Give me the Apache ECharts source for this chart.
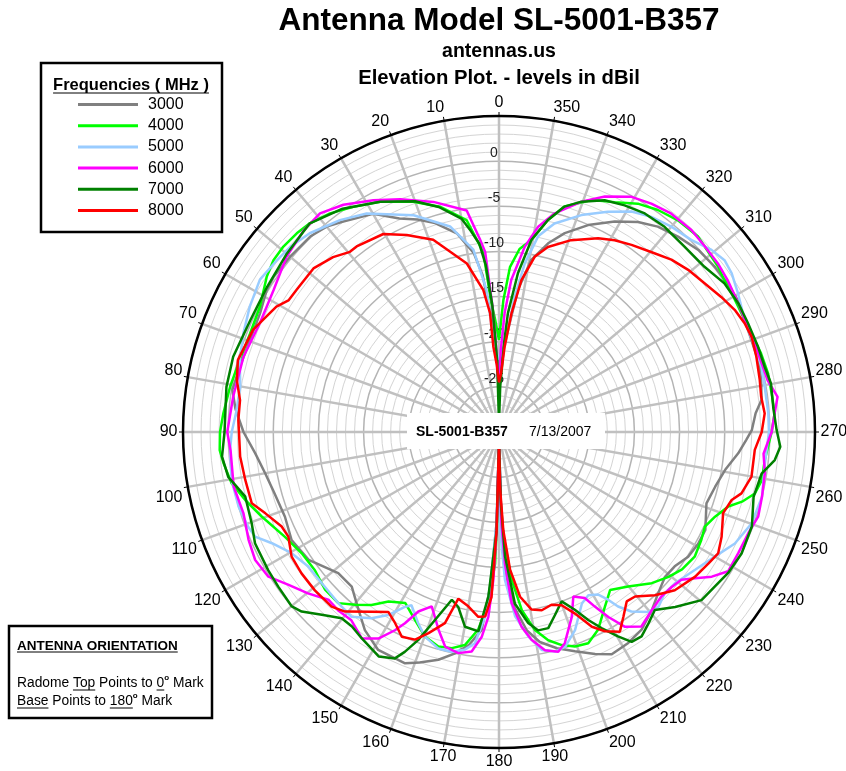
<!DOCTYPE html>
<html><head><meta charset="utf-8">
<script src="https://cdn.jsdelivr.net/npm/echarts/dist/echarts.min.js"></script>
<style>html,body{margin:0;padding:0;background:#fff}#c{width:846px;height:771px}</style>
</head><body><div id="c"></div>
<script>
// ---- DATA ----
const freqNames = ['3000', '4000', '5000', '6000', '7000', '8000'];
const radiusLabels = [-25, -20, -15, -10, -5, 0];
// [angle (deg, counter-clockwise from top), level (dBil)]
const d3000 = [[0,-23],[2,-21],[4,-17],[6,-12.5],[8,-10],[12,-7.5],[17,-5.8],[21,-4.8],[25,-3.9],[30,-2.1],[36.5,-1.0],[40,-0.3],[44,0.1],[50,0.2],[55.5,0.3],[58.6,0.15],[63.6,-0.45],[69.7,-0.6],[75.8,-0.4],[81,-0.1],[85,-0.7],[90,-1.7],[95,-2.9],[100,-3.7],[105,-4.2],[111.6,-4.5],[117.5,-4.1],[123.9,-4.6],[131.3,-6.3],[136.4,-6.35],[141.7,-4.9],[145.9,-3.5],[151,-2.4],[157.9,-2.35],[161,-3.0],[165.1,-3.9],[168.8,-5.0],[172,-6.2],[175,-8.0],[176.8,-13],[178.5,-20],[180,-29],[181.5,-20],[183,-14],[185,-10.5],[188,-7.8],[191,-6.3],[195,-5.2],[199.1,-4.3],[203.4,-3.2],[206.9,-2.4],[211.5,-2.6],[215.8,-3.0],[220.6,-4.0],[224.6,-4.9],[228.9,-5.6],[232.6,-5.5],[236.6,-4.9],[240.8,-4.7],[244.6,-4.7],[251,-5.7],[255.8,-5.3],[260.5,-4.6],[264.9,-3.4],[268.2,-2.6],[270.4,-2.0],[274.2,-1.5],[277,-0.7],[281.2,-0.4],[284.5,-0.2],[290,-0.25],[294.5,-0.1],[298.9,0.2],[303,0.2],[307.5,0.1],[312.4,-0.1],[317.5,-0.65],[322.3,-1.25],[326.5,-2.1],[331.2,-3.4],[336.7,-5.05],[341.7,-6.8],[345.4,-8.4],[349.4,-10.6],[352.4,-14.1],[355,-18.7],[358,-21.5],[360,-23]];
const d4000 = [[0,-19.8],[2,-17.5],[3.5,-15.5],[5,-10],[8.7,-6.25],[14.7,-4.2],[20.4,-2.8],[27.3,-1.3],[32.9,-0.3],[37.7,0.6],[42.2,1.2],[45.5,1.4],[49.3,1.5],[52.7,1.4],[56.2,0.95],[62.3,-0.1],[68.4,-0.35],[74.5,-0.2],[80.4,0.2],[86.1,0.6],[90,0.9],[93.7,1.0],[96.5,0.7],[100.9,0.15],[105,-0.9],[109.6,-2.1],[116.1,-3.6],[121.6,-4.35],[126.9,-4.5],[132.2,-4.0],[136.8,-4.0],[140.2,-5.1],[143.6,-6.2],[146.9,-7.6],[151.3,-8.4],[155.9,-7.2],[160.1,-5.9],[164.2,-5.3],[167.7,-5.5],[170.9,-6.1],[174,-8.0],[176.4,-11],[178.3,-15.4],[179.4,-22.8],[180,-29],[180.7,-22],[182,-19],[184.9,-13.55],[187.3,-10.1],[190.3,-7.7],[193.3,-6.3],[196.4,-5.4],[199.5,-4.8],[202.9,-4.6],[206.6,-5.5],[211.3,-7.4],[215.1,-8.6],[219.9,-7.7],[225.3,-6.2],[229.5,-5.3],[233.1,-4.65],[237.5,-4.3],[241.9,-4.6],[245.3,-4.9],[248.6,-4.3],[252,-3.3],[254,-2.0],[256.5,-0.85],[259.6,-0.4],[264,-0.4],[270,0.2],[273.9,0.6],[278.1,0.5],[282.3,0.5],[286.7,0.3],[291.4,0.0],[296.1,-0.1],[300.8,0.0],[304,0.1],[307,0.4],[314.5,0.9],[319.8,0.7],[324.4,0.24],[328.7,-0.4],[333.3,-1.5],[338.3,-2.35],[343.8,-4.0],[347,-5.9],[350.4,-8.4],[353.6,-9.6],[356.2,-11.7],[358.1,-15.4],[360,-19.8]];
const d5000 = [[0,-22],[2,-21],[3.5,-19.5],[5,-14.2],[8,-9.6],[13.4,-6.6],[21.5,-4.2],[31.2,-1.7],[36.9,-0.65],[43.6,0.4],[48.4,0.9],[52.3,1.1],[57.5,1.4],[63.3,0.9],[68.9,0.35],[74.5,-0.2],[80,-0.9],[85.8,-0.8],[90,-0.4],[93.8,-0.15],[100.2,0.1],[106,0.0],[110.7,-0.3],[113.2,-0.6],[116.1,-2.0],[120.3,-3.4],[125.2,-4.15],[130.5,-4.2],[136.8,-4.0],[141.4,-3.8],[145.6,-5.0],[148.8,-6.3],[151.7,-8.0],[153.2,-8.5],[157.1,-7.0],[160.1,-5.9],[164.3,-5.1],[167.8,-5.1],[171.1,-5.6],[173.5,-6.45],[175.7,-9.5],[176.7,-12.8],[178.5,-20],[180,-29],[180.6,-19.2],[182.3,-13.6],[185,-9.5],[188.2,-7.1],[191.1,-5.4],[194.3,-4.9],[197.1,-5.1],[201,-6.5],[205.8,-8.9],[208.7,-9.4],[211.4,-8.9],[213.1,-7.8],[214.3,-6.6],[216.4,-5.3],[219.7,-4.1],[222.4,-3.8],[225.8,-4.4],[229.3,-4.3],[234.9,-3.45],[240,-2.4],[244.7,-1.1],[250.1,-0.25],[256.2,0.0],[263.3,-0.35],[270,-0.1],[274,-0.1],[279.7,-0.15],[284,-0.05],[288.5,-0.15],[294.5,-0.1],[300.1,0.6],[304.3,1.2],[307.3,1.4],[310.6,1.0],[315,0.1],[320,-0.3],[324.7,-0.8],[329,-1.5],[333.7,-2.8],[339.2,-4.3],[345.1,-6.1],[348.7,-7.9],[351.3,-11.1],[353.4,-14.9],[356.2,-20.5],[360,-22]];
const d6000 = [[0,-26],[2,-20],[3,-16],[4.4,-10],[5.7,-8.5],[8.3,-5.2],[15.9,-3.5],[23,-2.0],[28.5,-0.8],[34.4,0.5],[39.3,1.3],[44,1.1],[50.5,0.5],[57.8,-0.5],[65.5,-0.9],[73.6,-0.5],[82.4,-0.3],[90,0.1],[94,-0.2],[101.6,0.0],[107.6,-0.3],[113.3,0.2],[117.7,0.5],[122.1,0.15],[126,-1.2],[130.2,-2.3],[134.5,-3.5],[137.9,-3.4],[141.9,-3.5],[146.4,-2.55],[149.7,-3.5],[152.3,-5.2],[153.8,-6.4],[155.8,-8.2],[158.9,-9.3],[163,-7.1],[165.9,-5.5],[169.6,-5.1],[172.9,-5.5],[175.2,-7.25],[176.7,-9.5],[177.8,-13.6],[178.6,-19.1],[180,-29],[181.5,-20],[182.6,-15.4],[184.2,-11],[186.6,-8.3],[188.9,-6.7],[191.9,-5.3],[195.1,-4.8],[197.3,-5.5],[201.5,-8.0],[204.3,-10],[207.3,-9.3],[208.8,-7.9],[210.6,-6.2],[212.9,-4.3],[216.2,-3.3],[220.6,-4.0],[224.6,-4.4],[228.1,-4.3],[231,-4.0],[233.3,-2.9],[235.8,-1.5],[238.7,-0.3],[243.1,-0.3],[247.9,-0.2],[251.9,0.2],[256.2,0.0],[261.2,-0.2],[265.3,-0.6],[270,0.2],[273.9,0.6],[277.2,1.1],[280.9,0.3],[286.9,0.0],[292.9,-0.1],[298.3,0.1],[303.6,0.4],[307.6,0.6],[312,0.7],[316.4,0.9],[321.8,0.8],[326.3,0.4],[330.6,-0.1],[335.8,-1.4],[340.3,-2.9],[345.7,-5.0],[349.2,-6.85],[352.1,-9.3],[355.4,-13.1],[357.3,-16.8],[358.8,-21],[360,-26]];
const d7000 = [[0,-29],[1.5,-22],[3,-16],[4.5,-11.5],[6,-9],[8,-7.5],[10,-6],[15,-4.2],[20,-2.8],[27.3,-1.3],[35,0.2],[42.2,1.2],[49.9,0.7],[58,0.3],[65.8,0.2],[74.2,0.6],[80.6,0.6],[90,0.4],[95.1,0.8],[99.4,0.4],[104.3,-1.0],[110.3,-0.8],[114.5,-0.3],[120.9,-0.2],[125,-0.15],[130.1,0.0],[132.3,-0.45],[135.9,-1.8],[139.8,-3.0],[142.9,-3.0],[146.4,-2.55],[151.8,-1.8],[155.3,-2.4],[156.8,-3.5],[158.8,-5.3],[161.2,-8.0],[164.3,-10.7],[166.9,-10.1],[170.1,-8.1],[174.1,-7.8],[176.3,-11.7],[178.6,-19.1],[180,-29],[181.5,-22],[182.8,-16.2],[185.3,-10.9],[188.7,-8.6],[191.2,-7.6],[194.1,-7.6],[197,-8.8],[200.3,-10.0],[203.1,-8.6],[205.4,-6.95],[207.6,-5.5],[210.2,-3.8],[212.3,-2.5],[214.9,-2.4],[218,-3.1],[221.2,-3.8],[225.2,-2.5],[230.3,-0.85],[238.4,-0.2],[243.4,0.05],[249.5,-0.1],[255.7,-0.9],[261,-0.55],[264.2,0.7],[267,1.2],[270.4,0.75],[275,0.5],[280.1,0.6],[283.8,0.3],[288.2,0.2],[293.6,0.1],[298.3,0.1],[303.4,-0.1],[308.8,-0.8],[315,-0.95],[321.1,-0.8],[326.3,-0.9],[331,-1.3],[335.5,-1.8],[340.3,-2.9],[343.8,-4.0],[347,-5.9],[350.4,-8.4],[353.2,-12.3],[355.7,-16.8],[356.7,-20],[358.5,-25],[360,-29]];
const d8000 = [[0,-24.5],[2,-22.5],[3.8,-20.5],[4.3,-16.8],[6.3,-14.2],[10.8,-11],[18.9,-7.5],[25.1,-5.9],[30.3,-4.6],[37.5,-4.1],[39.6,-4.1],[43.5,-3.3],[48.6,-2.6],[54.9,-2.6],[58,-2.5],[60.6,-1.7],[67.4,-0.5],[74.6,0.0],[78.8,-0.4],[83,-1.1],[87.4,-1.1],[90,-1.2],[95.4,-1.2],[100.7,-1.4],[106.1,-1.5],[109.2,-2.6],[113.5,-3.75],[116.4,-3.95],[121,-3.2],[125.6,-3.1],[130.7,-3.1],[136.2,-3.2],[139.4,-3.8],[144.7,-5.6],[148.4,-6.6],[151.5,-5.9],[154.6,-4.9],[158,-5.2],[160.7,-6.4],[164.2,-8.0],[166.3,-11.0],[170,-10.4],[173.6,-9.4],[175.7,-9.5],[177.4,-11.7],[178.6,-19.1],[180,-29],[181,-24],[182.5,-19.1],[184.6,-14.7],[187.3,-11.6],[190.4,-10],[193.5,-9.7],[196.9,-10],[199.9,-9.6],[202.7,-8.2],[205.5,-6.1],[208,-5.0],[211.2,-4.15],[214,-5.35],[217,-6.5],[219.6,-6.35],[223.7,-5.0],[228,-3.8],[233.6,-3.0],[237.9,-2.6],[241,-2.25],[244.8,-2.75],[250.1,-3.6],[253.7,-3.15],[255.8,-2.3],[260,-1.6],[266,-1.6],[270,-0.9],[274,-0.5],[277.7,-0.7],[281.3,-0.55],[286.3,-0.3],[290.7,-0.1],[293.9,-0.25],[297.4,-0.6],[301.3,-1.2],[305.9,-1.9],[310.6,-2.4],[315,-3.0],[319.8,-3.9],[324.7,-4.6],[328.9,-5.2],[332.9,-5.9],[339.4,-7.3],[345.2,-8.8],[348.5,-10.2],[351.6,-13],[354,-16.8],[356.2,-20.5],[358,-23.5],[360,-24.5]];
const seriesData = [d3000, d4000, d5000, d6000, d7000, d8000];

// ---- STYLE ----
const colors = ['#808080', '#00ff00', '#99ccff', '#ff00ff', '#008000', '#ff0000'];
const FF = '"Liberation Sans", Arial, sans-serif';
const cx = 499, cy = 432, R = 316;

const mctx = document.createElement('canvas').getContext('2d');
function tw(t, font) { mctx.font = font; return mctx.measureText(t).width; }

function txt(x, y, text, font, align) {
  return { type: 'text', x: x, y: y, z: 100,
    style: { text: text, font: font, fill: '#000', align: align || 'left', verticalAlign: 'middle',
             textAlign: align || 'left', textVerticalAlign: 'middle' } };
}
function uline(x1, x2, y) {
  return { type: 'line', z: 100, shape: { x1: x1, y1: y, x2: x2, y2: y }, style: { stroke: '#000', lineWidth: 1 } };
}
function pieceLine(x0, y, pieces, font, supFont, out) {
  let x = x0;
  pieces.forEach(p => {
    const f = p[2] ? supFont : font;
    const yy = p[2] ? y - 5 : y;
    out.push(txt(x, yy, p[0], f, 'left'));
    const w = tw(p[0], f);
    if (p[1]) out.push(uline(x, x + w, y + 7));
    x += w;
  });
}

const graphics = [];
graphics.push(txt(cx, 21, 'Antenna Model SL-5001-B357', 'bold 31.5px ' + FF, 'center'));
graphics.push(txt(cx, 52, 'antennas.us', 'bold 19.5px ' + FF, 'center'));
graphics.push(txt(cx, 78, 'Elevation Plot. - levels in dBil', 'bold 20.3px ' + FF, 'center'));
// legend box
graphics.push({ type: 'rect', z: 90, shape: { x: 41, y: 63, width: 181, height: 169 },
  style: { fill: '#fff', stroke: '#000', lineWidth: 2.5 } });
const lhFont = 'bold 16.5px ' + FF;
const lhText = 'Frequencies ( MHz )';
const lhW = tw(lhText, lhFont);
graphics.push(txt(131, 85, lhText, lhFont, 'center'));
graphics.push(uline(131 - lhW / 2, 131 + lhW / 2, 93));
// orientation box
graphics.push({ type: 'rect', z: 90, shape: { x: 9, y: 626, width: 203, height: 92 },
  style: { fill: '#fff', stroke: '#000', lineWidth: 2.5 } });
const ohFont = 'bold 13.5px ' + FF;
const ohText = 'ANTENNA ORIENTATION';
graphics.push(txt(17, 646, ohText, ohFont, 'left'));
graphics.push(uline(17, 17 + tw(ohText, ohFont), 652));
const oFont = '13.8px ' + FF, supF = 'bold 8px ' + FF;
pieceLine(17, 683, [['Radome ', false], ['Top', true], [' Points to ', false], ['0', true], ['o', false, true], [' Mark', false]], oFont, supF, graphics);
pieceLine(17, 701, [['Base', true], [' Points to ', false], ['180', true], ['o', false, true], [' Mark', false]], oFont, supF, graphics);
// centre label
graphics.push({ type: 'rect', z: 90, shape: { x: 407, y: 413, width: 198, height: 36 }, style: { fill: '#fff', stroke: null } });
graphics.push(txt(416, 432, 'SL-5001-B357', 'bold 14px ' + FF, 'left'));
graphics.push(txt(529, 432, '7/13/2007', '14px ' + FF, 'left'));

// angle-label nudges (style only)
const lblBase = { fontSize: 16, fontFamily: FF, color: '#000' };
const angleRich = {
  l10: Object.assign({ padding: [0, 16, 0, 0] }, lblBase),
  l350: Object.assign({ padding: [0, 0, 0, 24] }, lblBase),
  l80: Object.assign({ padding: [0, 0, 12, 0] }, lblBase),
  l280: Object.assign({ padding: [0, 0, 12, 0] }, lblBase),
  l100: Object.assign({ padding: [20, 0, 0, 0] }, lblBase),
  l260: Object.assign({ padding: [20, 0, 0, 0] }, lblBase)
};

const chart = echarts.init(document.getElementById('c'), null, { renderer: 'canvas' });
chart.setOption({
  backgroundColor: '#fff',
  animation: false,
  polar: { center: [cx, cy], radius: R },
  angleAxis: {
    type: 'value', min: 0, max: 360, interval: 10, startAngle: 90, clockwise: false,
    axisLine: { show: true, lineStyle: { color: '#000', width: 2.5 } },
    axisTick: { show: true, length: 4, lineStyle: { color: '#000', width: 1 } },
    axisLabel: {
      show: true, margin: 5.5, fontSize: 16, fontFamily: FF, color: '#000',
      formatter: v => angleRich['l' + v] ? '{l' + v + '|' + v + '}' : String(v),
      rich: angleRich
    },
    splitLine: { show: true, lineStyle: { color: '#c0c0c0', width: 2.5 } }
  },
  radiusAxis: {
    type: 'value', min: -30, max: 5, interval: 5,
    axisLine: { show: false }, axisTick: { show: false },
    axisLabel: {
      show: true, margin: 0, align: 'center', verticalAlign: 'bottom', fontSize: 14, fontFamily: FF, color: '#222',
      padding: [0, 10, 1, 0],
      formatter: v => radiusLabels.indexOf(v) >= 0 ? String(v) : ''
    },
    splitLine: { show: true, lineStyle: { color: '#b4b4b4', width: 1.5 } },
    minorTick: { show: false, splitNumber: 5 },
    minorSplitLine: { show: true, lineStyle: { color: '#d4d4d4', width: 1 } }
  },
  legend: {
    orient: 'vertical', left: 78, top: 96.5, padding: 0, itemWidth: 60, itemHeight: 3, itemGap: 5.2,
    icon: 'rect', selectedMode: false,
    data: freqNames,
    textStyle: { fontSize: 16, fontFamily: FF, color: '#000', padding: [0, 0, 0, 5], lineHeight: 16, height: 16 },
    z: 95
  },
  series: freqNames.map((n, i) => ({
    name: n, type: 'line', coordinateSystem: 'polar', symbol: 'none', showSymbol: false, smooth: false,
    lineStyle: { width: 2.5, color: colors[i] }, itemStyle: { color: colors[i] },
    z: 2 + i,
    data: seriesData[i].map(p => [p[1], p[0]])
  })),
  graphic: graphics
});
</script></body></html>
